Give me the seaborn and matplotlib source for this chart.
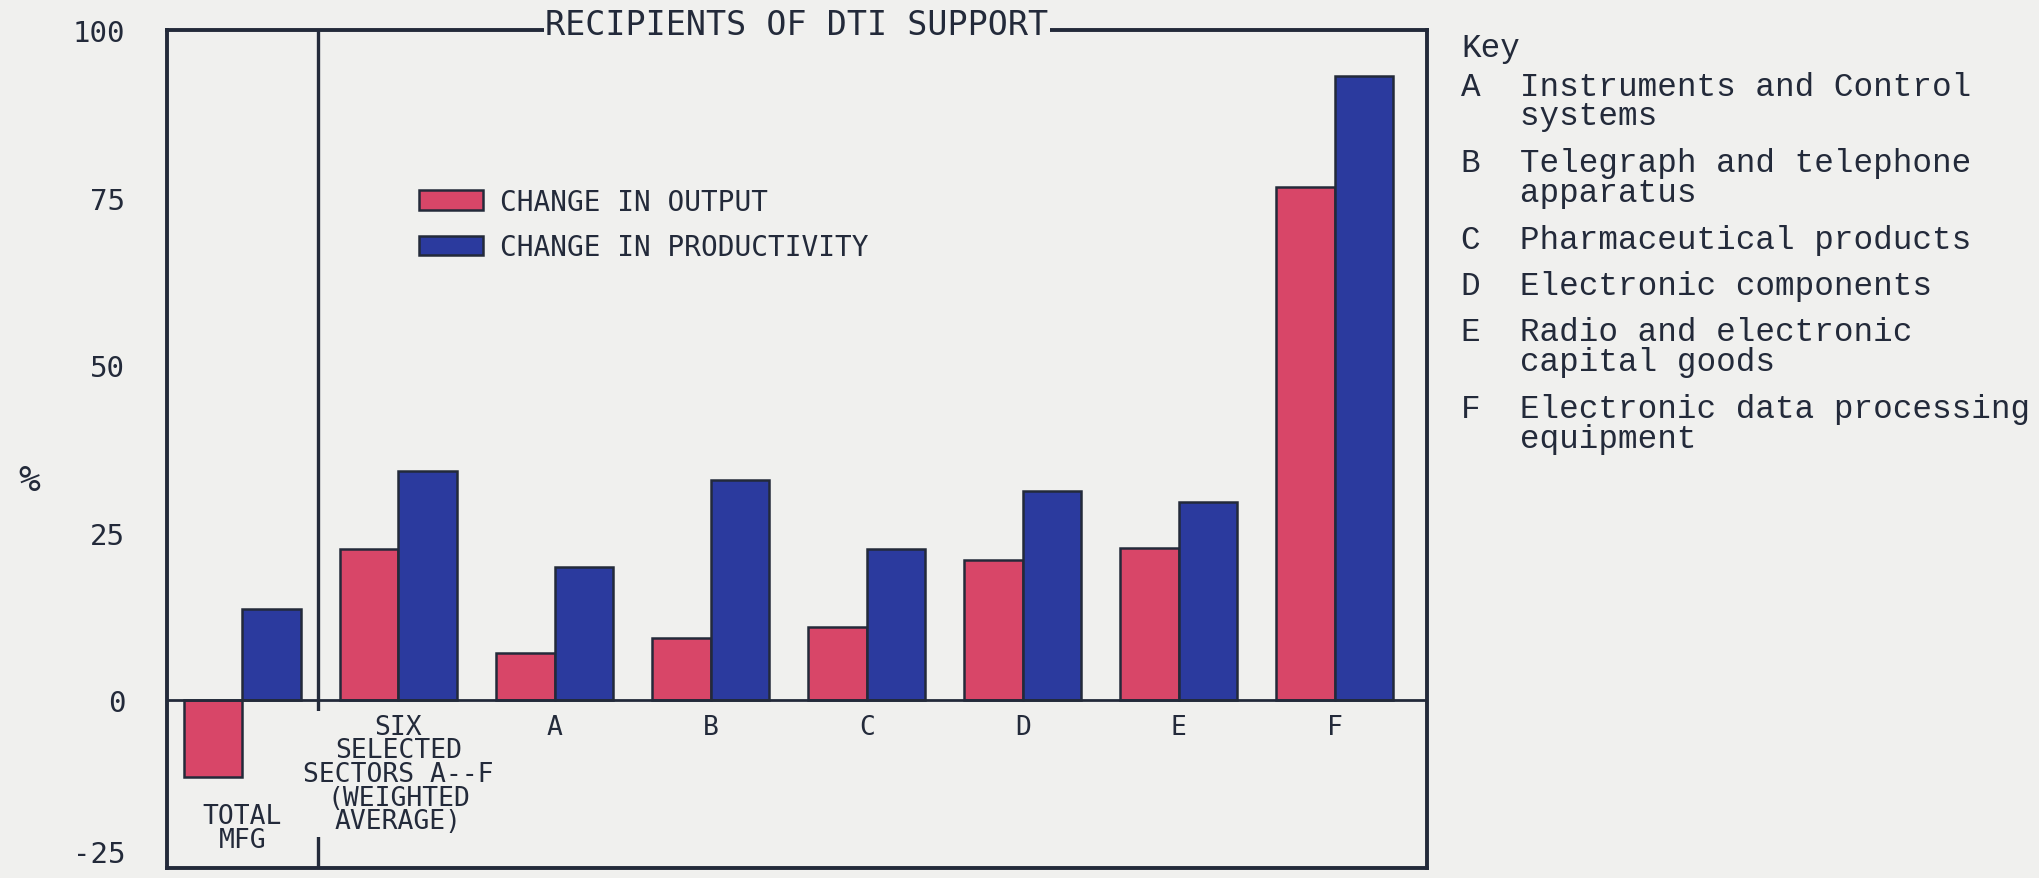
import numpy as np
import pandas as pd
import matplotlib
matplotlib.use("Agg")
import matplotlib.pyplot as plt
from matplotlib.patches import Patch
import seaborn as sns

# ==============================
# DATA
# ==============================
sectors = ["TOTAL MFG", "SIX SECTORS", "A", "B", "C", "D", "E", "F"]
sector_labels = ["TOTAL\nMFG", "SIX\nSELECTED\nSECTORS A--F\n(WEIGHTED\nAVERAGE)",
                 "A", "B", "C", "D", "E", "F"]
series = ["CHANGE IN OUTPUT", "CHANGE IN PRODUCTIVITY"]
change_output = [-11.5, 22.6, 7.0, 9.3, 11.0, 20.9, 22.8, 76.6]
change_productivity = [13.7, 34.2, 19.9, 32.9, 22.6, 31.3, 29.6, 93.2]
y_ticks = [-25, 0, 25, 50, 75, 100]
key_letters = ["A", "B", "C", "D", "E", "F"]
key_names = ["Instruments and Control\nsystems",
             "Telegraph and telephone\napparatus",
             "Pharmaceutical products",
             "Electronic components",
             "Radio and electronic\ncapital goods",
             "Electronic data processing\nequipment"]

# ==============================
# STYLE
# ==============================
paper = "#f0f0ee"
ink = "#232a3a"
red = "#d84668"
blue = "#2b3a9e"

sns.set_style("white")
plt.rcParams["font.family"] = ["DejaVu Sans Mono", "DejaVu Sans"]

df = pd.DataFrame({
    "sector": sectors * 2,
    "series": [series[0]] * len(sectors) + [series[1]] * len(sectors),
    "value": change_output + change_productivity,
})

W, H = 2040, 879
fig = plt.figure(figsize=(W / 100, H / 100), dpi=100, facecolor=paper)
# axes box in pixels: left 167, right 1427, top 31, bottom 869
ax = fig.add_axes([167 / W, 1 - 869 / H, (1427 - 167) / W, (869 - 31) / H])
ax.set_facecolor(paper)

sns.barplot(data=df, x="sector", y="value", hue="series", order=sectors,
            hue_order=series, palette=[red, blue], saturation=1, width=0.75,
            edgecolor=ink, linewidth=1.8, legend=False, ax=ax)

ax.set_xlim(-0.483, 7.59)
ax.set_ylim(-25, 100)
ax.set_xlabel("")
ax.set_ylabel("")

# frame, zero line and divider
for sp in ax.spines.values():
    sp.set_visible(True)
    sp.set_color(ink)
    sp.set_linewidth(2.8)
ax.axhline(0, color=ink, lw=2.0, zorder=1)
ax.axvline(0.483, color=ink, lw=2.4, zorder=1)

# ticks
ax.set_xticks([])
ax.set_yticks(y_ticks)
ax.set_yticklabels([str(t) for t in y_ticks])
ax.tick_params(axis="y", length=0, pad=30, labelsize=21, labelcolor=ink)
for lab in ax.get_yticklabels():
    if lab.get_text() == "-25":
        lab.set_verticalalignment("bottom")

# category labels under the bars (the long one breaks the divider line)
for i, lab in enumerate(sector_labels):
    top = -15.3 if i == 0 else -2.0
    box = None
    if i == 1:
        box = dict(boxstyle="square,pad=0.1", facecolor=paper, edgecolor="none")
    ax.text(i, top, lab, ha="center", va="top", fontsize=19,
            color=ink, linespacing=0.88, zorder=4, bbox=box)

# title sitting on the top frame line
ax.text(0.5, 1 - 4 / 838, "RECIPIENTS OF DTI SUPPORT", transform=ax.transAxes,
        ha="center", va="baseline", fontsize=24, color=ink, zorder=5,
        bbox=dict(boxstyle="square,pad=0.05", facecolor=paper, edgecolor="none"))

# legend
handles = [Patch(facecolor=red, edgecolor=ink, linewidth=1.8),
           Patch(facecolor=blue, edgecolor=ink, linewidth=1.8)]
leg = ax.legend(handles, series, loc="upper left", bbox_to_anchor=(0.2, 0.812),
                frameon=False, fontsize=20, handlelength=2.3, handleheight=0.7,
                handletextpad=0.6, labelspacing=0.64, borderpad=0, borderaxespad=0)
for t in leg.get_texts():
    t.set_color(ink)

# percent sign
fig.text(29 / W, 1 - 481 / H, "%", fontsize=26, color=ink, ha="center", va="center")

# key on the right
key_font = ["Liberation Mono", "DejaVu Sans Mono"]
x_key = 1461 / W
y = 48
fig.text(x_key, 1 - y / H, "Key", fontsize=23.5, family=key_font, color=ink, va="center")
y += 39
for letter, name in zip(key_letters, key_names):
    lines = name.split("\n")
    for j, line in enumerate(lines):
        prefix = letter + "  " if j == 0 else "   "
        fig.text(x_key, 1 - y / H, prefix + line, fontsize=23.5, family=key_font,
                 color=ink, va="center")
        y += 30
    y += 16.5

fig.savefig("out.png", dpi=100, facecolor=paper)
